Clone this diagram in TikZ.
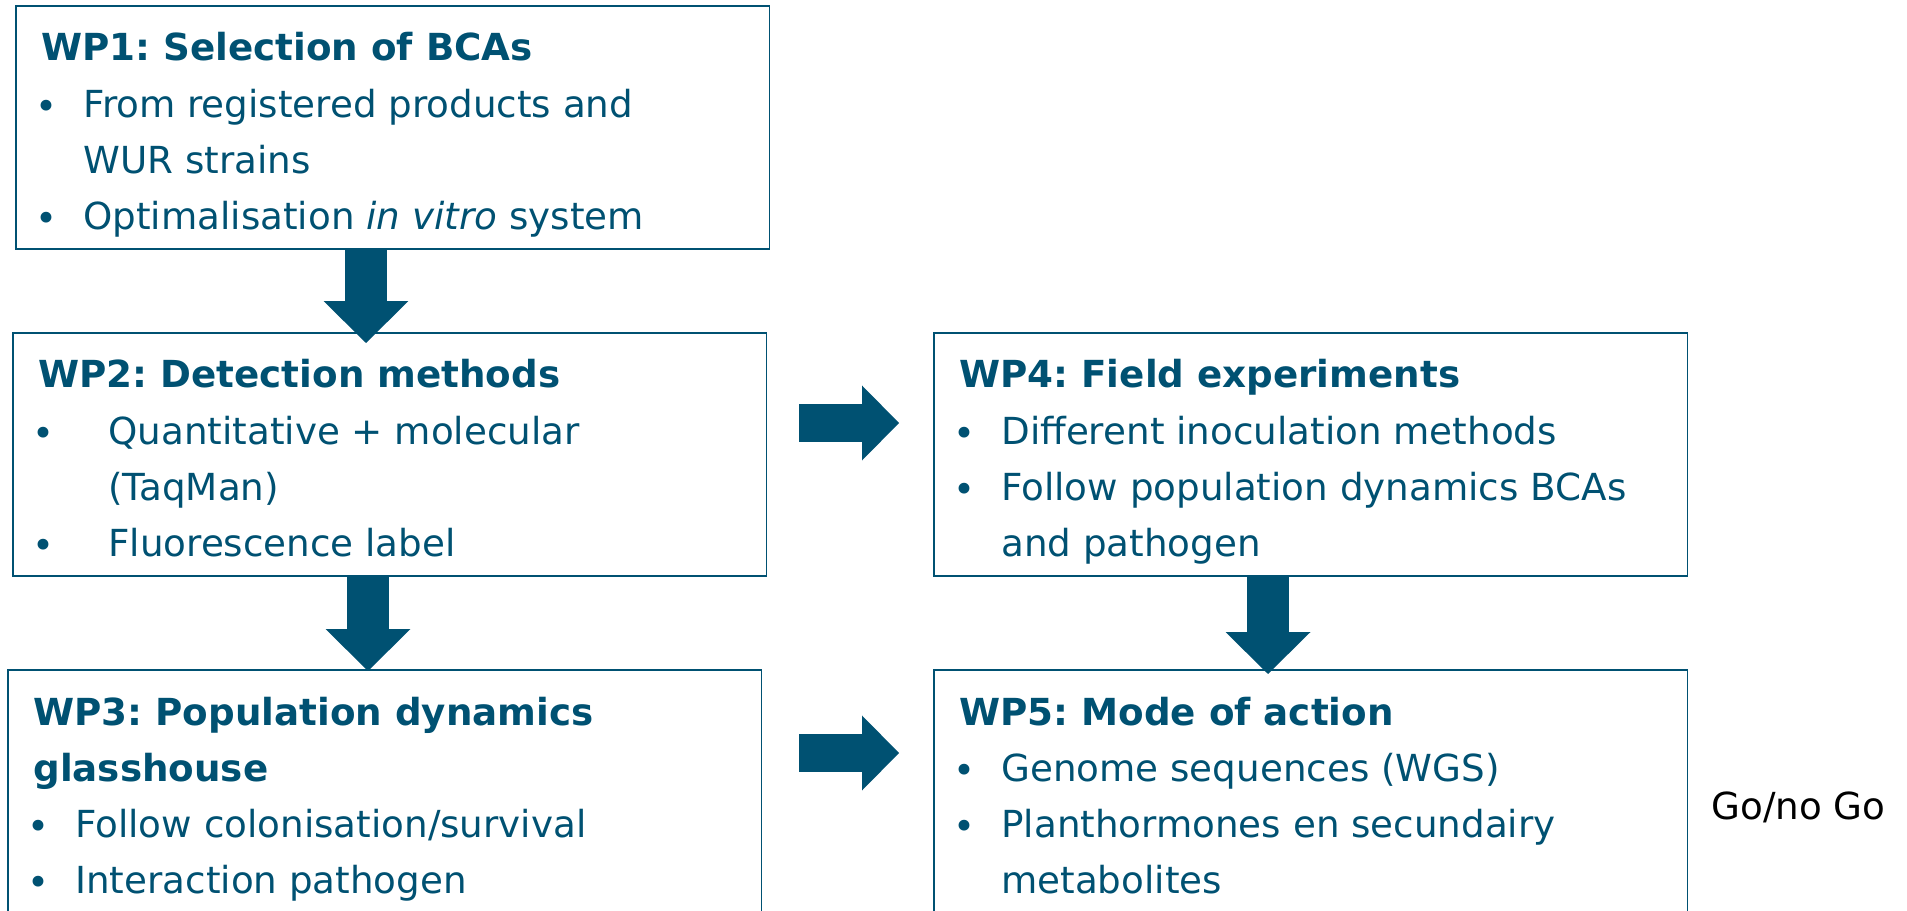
\documentclass[tikz,border=0pt]{standalone}
\usepackage{fontspec}
\setmainfont{DejaVu Sans}
\usetikzlibrary{arrows.meta,calc}

\definecolor{wurblue}{HTML}{005172}
\newcommand{\wpfont}{\fontsize{21.2pt}{31.9pt}\selectfont\frenchspacing}
\newcommand{\wplines}[1]{\parbox[t]{14.6cm}{\raggedright #1}}
\newcommand{\bul}[1][0.84cm]{\makebox[#1][l]{\hspace*{-0.12cm}\raisebox{-0.04cm}{\textbullet}}}

\begin{document}
\begin{tikzpicture}[x=0.02cm,y=0.02cm,
        wpbox/.style={draw=wurblue, line width=0.9pt, anchor=north west, inner sep=0pt, outer sep=0pt,
            minimum width=15.07cm, minimum height=4.86cm},
        wptext/.style={anchor=base west, inner sep=0pt, text=wurblue, font=\wpfont},
        downflow/.style={draw=wurblue, line width=0.85cm, -{Triangle[length=0.84cm, width=1.7cm, line width=0pt]}},
        rightflow/.style={draw=wurblue, line width=0.77cm, -{Triangle[length=0.74cm, width=1.5cm, line width=0pt]}}]
    \path[use as bounding box, clip] (0,0) rectangle (1907,910);

    % work package frames
    \node[wpbox] (wp1) at (16,904) {};
    \node[wpbox] (wp2) at (13,577) {};
    \node[wpbox, minimum height=6cm] (wp3) at (8,240) {};
    \node[wpbox] (wp4) at (934,577) {};
    \node[wpbox, minimum height=6cm] (wp5) at (934,240) {};

    % contents
    \node[wptext] (wp1text) at ($(wp1.north west)+(25,-55)$) {\wplines{%
        \textbf{WP1: Selection of BCAs}\\
        \bul From registered products and\\
        \hspace*{0.84cm}WUR strains\\
        \bul Optimalisation \textit{in vitro} system}};
    \node[wptext] (wp2text) at ($(wp2.north west)+(25,-55)$) {\wplines{%
        \textbf{WP2: Detection methods}\\
        \bul[1.4cm]Quantitative + molecular\\
        \hspace*{1.4cm}(TaqMan)\\
        \bul[1.4cm]Fluorescence label}};
    \node[wptext] (wp3text) at ($(wp3.north west)+(25,-55)$) {\wplines{%
        \textbf{WP3: Population dynamics}\\
        \textbf{glasshouse}\\
        \bul Follow colonisation/survival\\
        \bul Interaction pathogen}};
    \node[wptext] (wp4text) at ($(wp4.north west)+(25,-55)$) {\wplines{%
        \textbf{WP4: Field experiments}\\
        \bul Different inoculation methods\\
        \bul Follow population dynamics BCAs\\
        \hspace*{0.84cm}and pathogen}};
    \node[wptext] (wp5text) at ($(wp5.north west)+(25,-55)$) {\wplines{%
        \textbf{WP5: Mode of action}\\
        \bul Genome sequences (WGS)\\
        \bul Planthormones en secundairy\\
        \hspace*{0.84cm}metabolites}};
    \node[anchor=base west, inner sep=0pt, font=\wpfont] (gonogo) at (1711,91) {Go/no Go};

    % flow between the packages
    \draw[downflow] ($(wp1.south west)+(350,0)$) -- ($(wp2.north west)+(353,-10)$);
    \draw[downflow] ($(wp2.south west)+(355,0)$) -- ($(wp3.north west)+(360,-1)$);
    \draw[downflow] ($(wp4.south west)+(334,0)$) -- ($(wp5.north west)+(334,-4)$);
    \draw[rightflow] ($(wp2.north east)+(33,-90)$) -- ($(wp4.north west)+(-35,-90)$);
    \draw[rightflow] ($(wp3.north east)+(38,-83)$) -- ($(wp5.north west)+(-35,-83)$);
\end{tikzpicture}
\end{document}
